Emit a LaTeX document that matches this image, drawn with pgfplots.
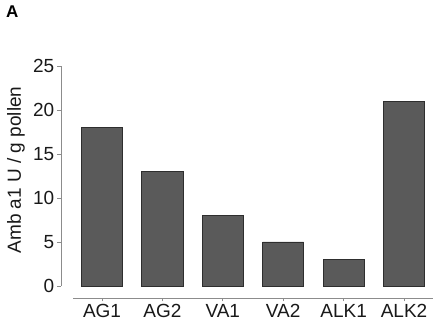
\documentclass[border=0pt]{standalone}
\usepackage{pgfplots}
\pgfplotsset{compat=1.18}
\usepackage{fontspec}
\setmainfont{Liberation Sans}
\definecolor{barfill}{HTML}{5A5A5A}
\definecolor{baredge}{HTML}{2E2E2E}
\definecolor{axgray}{HTML}{8C8C8C}
\begin{document}
\begin{tikzpicture}
\useasboundingbox (-61pt,-38pt) rectangle (385pt,298pt);
\begin{axis}[
  scale only axis,
  width=372pt, height=232pt,
  xmin=-0.679, xmax=5.48,
  ymin=-1.364, ymax=25,
  axis x line*=bottom, axis y line*=left,
  axis line style={draw=none},
  tick align=outside,
  major tick length=3.5pt,
  every tick/.style={axgray, line width=0.9pt},
  xtick={0,1,2,3,4,5},
  xticklabels={AG1,AG2,VA1,VA2,ALK1,ALK2},
  ytick={0,5,10,15,20,25},
  /pgf/number format/assume math mode=true,
  ticklabel style={font=\fontsize{19}{22}\selectfont, text=black!90, inner sep=3pt},
  ylabel={Amb a1 U / g pollen},
  ylabel style={font=\fontsize{19}{22}\selectfont, text=black!90, at={(axis description cs:-0.121,0.552)}, anchor=center, rotate=0},
  clip=false,
]
\addplot[ybar, bar width=0.68, fill=barfill, draw=baredge, line width=0.8pt] coordinates {
  (0,18) (1,13) (2,8) (3,5) (4,3) (5,21)
};
\draw[axgray, line width=0.9pt] (axis cs:-0.679,0) -- (axis cs:-0.679,25);
\draw[axgray, line width=0.9pt] (axis cs:-0.48,-1.364) -- (axis cs:5.48,-1.364);
\end{axis}
\node[anchor=north west, inner sep=0pt, font=\fontsize{17}{19}\selectfont\bfseries] at (-55pt,292pt) {A};
\end{tikzpicture}
\end{document}
